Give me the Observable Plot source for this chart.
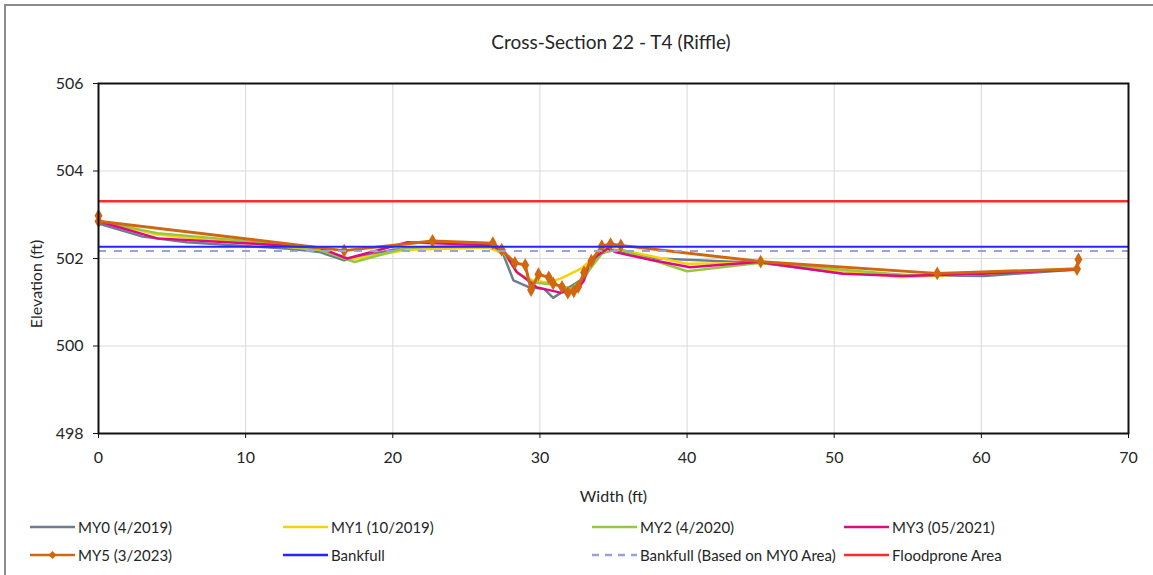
<!DOCTYPE html>
<html>
<head>
<meta charset="utf-8">
<script src="https://cdn.jsdelivr.net/npm/d3@7"></script>
<script src="https://cdn.jsdelivr.net/npm/@observablehq/plot@0.6"></script>
<style>
  html, body { margin: 0; padding: 0; background: #fff; }
  #wrap { position: relative; width: 1153px; height: 575px; overflow: hidden; font-family: Lato, "Open Sans", sans-serif; color: #262626; }
  #border { position: absolute; left: 4px; top: 4px; width: 1160px; height: 600px; border-left: 2px solid #8c8c8c; border-top: 2px solid #8c8c8c; }
  #title { position: absolute; left: 0; width: 1222px; top: 30px; text-align: center; font-size: 19px; }
  #ylabel { position: absolute; left: 35px; top: 284px; transform: translate(-50%, -50%) rotate(-90deg); font-size: 16px; white-space: nowrap; }
  #chart { position: absolute; left: 0; top: 60px; }
  .leg { position: absolute; display: flex; align-items: center; font-size: 15px; height: 18px; white-space: nowrap; }
  .leg svg { margin-right: 3px; }
</style>
</head>
<body>
<div id="wrap">
  <div id="border"></div>
  <div id="title">Cross-Section 22 - T4 (Riffle)</div>
  <div id="chart"></div>
  <div id="ylabel">Elevation (ft)</div>
  <div id="legend"></div>
</div>
<script>
// ---- data ----
const seriesNames = ["MY0 (4/2019)", "MY1 (10/2019)", "MY2 (4/2020)", "MY3 (05/2021)", "MY5 (3/2023)"];
const seriesColors = ["#6d7d8f", "#f7d20a", "#94c840", "#dc0a84", "#d0660f"];

const my0 = [[0,502.8],[3,502.5],[6,502.37],[13,502.22],[15,502.15],[16.7,501.96],[20,502.2],[22,502.25],[26.5,502.3],[27.5,502.1],[28.2,501.5],[29.2,501.35],[30.3,501.3],[30.9,501.1],[31.8,501.3],[33,501.55],[34,502.1],[35,502.2],[38,502.0],[45,501.9],[50.5,501.66],[55,501.62],[60.2,501.6],[66.5,501.75]];
const my1 = [[0,502.85],[4,502.55],[10,502.35],[15,502.2],[17.2,501.98],[21,502.2],[26.5,502.25],[27.6,502.1],[28.5,501.66],[29.5,501.5],[30.5,501.45],[31.4,501.54],[32.8,501.77],[34.3,502.2],[35.5,502.2],[40,501.88],[45,501.9],[54.5,501.57],[60,501.65],[66.5,501.78]];
const my2 = [[0,502.85],[4,502.58],[10,502.4],[15,502.2],[17.4,501.92],[21,502.25],[26.7,502.3],[27.6,502.1],[28.5,501.66],[29.6,501.45],[31,501.4],[32.1,501.31],[32.8,501.5],[34.3,502.15],[35.5,502.2],[40,501.71],[45,501.9],[55,501.62],[60,501.65],[66.5,501.75]];
const my3 = [[0,502.85],[4,502.46],[10,502.35],[15,502.25],[16.9,502.0],[21,502.37],[26.7,502.3],[27.6,502.15],[28.4,501.7],[29.8,501.34],[31.4,501.22],[32.5,501.28],[33,501.5],[33.4,501.95],[34.6,502.23],[35.2,502.14],[37.5,501.97],[40.2,501.8],[44.8,501.92],[50.6,501.65],[54.7,501.6],[60,501.65],[66.5,501.75]];
const my5 = [[0,502.98],[0,502.85],[16.7,502.18],[22.7,502.4],[26.8,502.35],[27.4,502.2],[28.3,501.9],[29,501.85],[29.4,501.28],[29.9,501.64],[30.6,501.57],[30.9,501.43],[31.5,501.35],[31.9,501.22],[32.3,501.25],[32.6,501.35],[33,501.68],[33.5,501.95],[34.2,502.28],[34.8,502.33],[35.5,502.3],[45,501.93],[57,501.66],[66.5,501.76],[66.6,501.98]];

const bankfull = 502.27;
const bankfullMY0 = 502.17;
const floodprone = 503.31;

const xTicks = [0, 10, 20, 30, 40, 50, 60, 70];
const yTicks = [498, 500, 502, 504, 506];

// ---- build tables ----
const allSeries = [my0, my1, my2, my3, my5];
const rows = allSeries.flatMap((s, i) => s.map(([x, y]) => ({series: seriesNames[i], x, y})));
const my5Rows = rows.filter(d => d.series === seriesNames[4]);

const lineMarks = seriesNames.map((name, i) =>
  Plot.line(rows.filter(d => d.series === name), {x: "x", y: "y", stroke: seriesColors[i], strokeWidth: i === 4 ? 3 : 2.5, curve: "linear"})
);

const chart = Plot.plot({
  width: 1153,
  height: 450,
  marginTop: 23,
  marginLeft: 98,
  marginRight: 25,
  marginBottom: 77,
  style: {fontFamily: "Lato, 'Open Sans', sans-serif", fontSize: "16px", color: "#262626", background: "transparent", overflow: "visible"},
  x: {domain: [0, 70]},
  y: {domain: [498, 506]},
  marks: [
    Plot.gridX(xTicks, {stroke: "#d9d9d9", strokeOpacity: 1, strokeWidth: 1}),
    Plot.gridY(yTicks, {stroke: "#d9d9d9", strokeOpacity: 1, strokeWidth: 1}),
    ...lineMarks,
    Plot.dot(my5Rows, {x: "x", y: "y", symbol: "diamond", r: 4.2, fill: seriesColors[4], stroke: "none"}),
    Plot.ruleY([bankfull], {stroke: "#2424ff", strokeWidth: 2}),
    Plot.ruleY([bankfullMY0], {stroke: "#95a3dc", strokeWidth: 2, strokeDasharray: "8,8"}),
    Plot.ruleY([floodprone], {stroke: "#ff2a2a", strokeWidth: 2.5}),
    Plot.frame({stroke: "#111", strokeWidth: 2}),
    Plot.axisX(xTicks, {tickSize: 5, tickPadding: 13, label: "Width (ft)", labelAnchor: "center", labelArrow: "none", labelOffset: 68, stroke: "#111"}),
    Plot.axisY(yTicks, {tickSize: 5, tickPadding: 10, label: null, stroke: "#111"})
  ]
});
document.getElementById("chart").appendChild(chart);

// ---- legend ----
const legendItems = [
  {name: seriesNames[0], color: seriesColors[0], left: 30, top: 518},
  {name: seriesNames[1], color: seriesColors[1], left: 283, top: 518},
  {name: seriesNames[2], color: seriesColors[2], left: 592, top: 518},
  {name: seriesNames[3], color: seriesColors[3], left: 844, top: 518},
  {name: seriesNames[4], color: seriesColors[4], left: 30, top: 546, marker: true},
  {name: "Bankfull", color: "#2424ff", left: 283, top: 546},
  {name: "Bankfull (Based on MY0 Area)", color: "#95a3dc", left: 592, top: 546, dash: true},
  {name: "Floodprone Area", color: "#ff2a2a", left: 844, top: 546}
];
const legend = document.getElementById("legend");
for (const it of legendItems) {
  const div = document.createElement("div");
  div.className = "leg";
  div.style.left = it.left + "px";
  div.style.top = it.top + "px";
  const ns = "http://www.w3.org/2000/svg";
  const s = document.createElementNS(ns, "svg");
  s.setAttribute("width", 45); s.setAttribute("height", 12);
  const l = document.createElementNS(ns, "line");
  l.setAttribute("x1", 0); l.setAttribute("x2", 45); l.setAttribute("y1", 6); l.setAttribute("y2", 6);
  l.setAttribute("stroke", it.color); l.setAttribute("stroke-width", 2.5);
  if (it.dash) l.setAttribute("stroke-dasharray", "7,6");
  s.appendChild(l);
  if (it.marker) {
    const p = document.createElementNS(ns, "path");
    p.setAttribute("d", "M22.5,2 L26.5,6 L22.5,10 L18.5,6 Z");
    p.setAttribute("fill", it.color);
    s.appendChild(p);
  }
  div.appendChild(s);
  const t = document.createElement("span");
  t.textContent = it.name;
  div.appendChild(t);
  legend.appendChild(div);
}
</script>
</body>
</html>
